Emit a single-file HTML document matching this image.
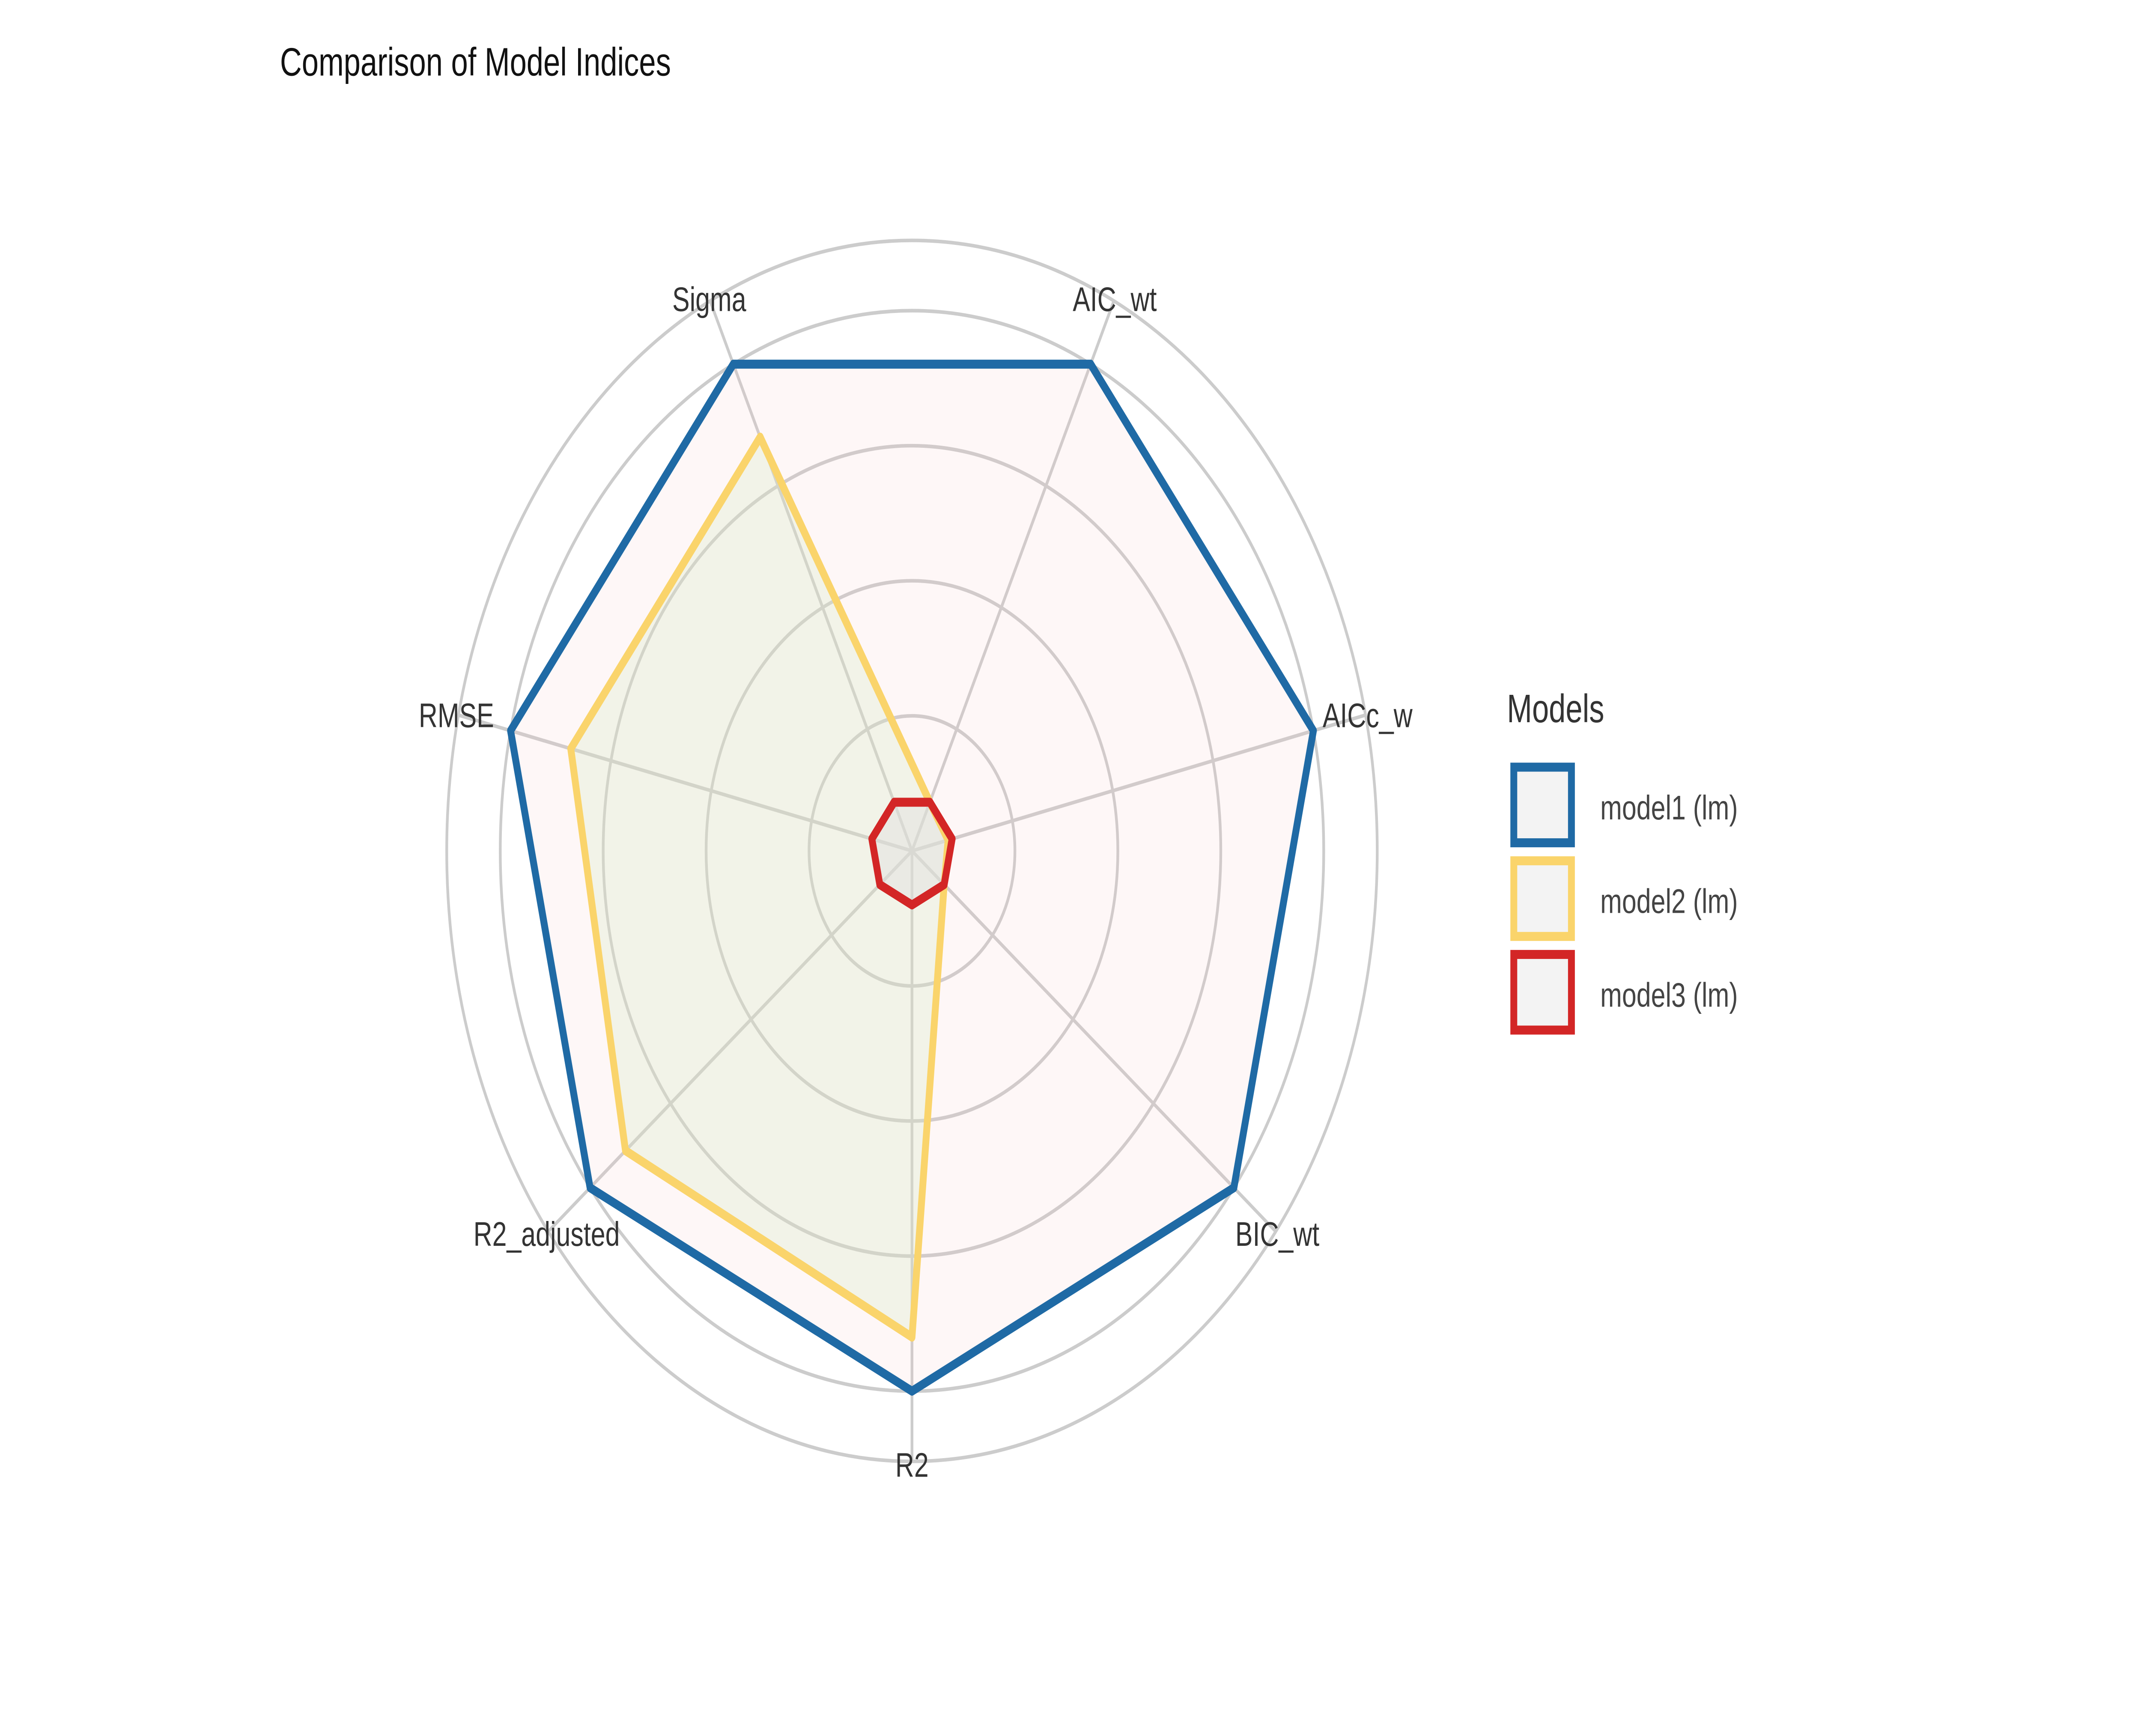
<!DOCTYPE html>
<html><head><meta charset="utf-8"><style>
html,body{margin:0;padding:0;background:#fff;width:100%;height:100%;overflow:hidden;}
svg{display:block;position:absolute;left:0;top:0;width:100vw;height:100vh;}
text{font-family:"Liberation Sans","DejaVu Sans",sans-serif;}
</style></head><body>
<svg id="chart" viewBox="0 0 1560 964" preserveAspectRatio="none" xmlns="http://www.w3.org/2000/svg">
<rect width="1560" height="964" fill="#fff"/>
<text x="204" y="42" font-size="22" fill="#111">Comparison of Model Indices</text>
<g id="grid"></g>
<g id="series"></g>
<g id="labels"></g>
<g id="legend">
<text x="1098" y="401" font-size="22" fill="#333">Models</text>
</g>
</svg>
<script>
const categories = ["R2","BIC_wt","AICc_w","AIC_wt","Sigma","RMSE","R2_adjusted"];
const model1 = [1,1,1,1,1,1,1];
const model2 = [0.9,0.1,0.09,0.1,0.85,0.85,0.89];
const model3 = [0.1,0.1,0.1,0.1,0.1,0.1,0.1];
const seriesNames = ["model1 (lm)","model2 (lm)","model3 (lm)"];
const gridLevels = [0.25,0.5,0.75,1.0];

const NS="http://www.w3.org/2000/svg";
const cx=664.5, cy=472.5, R=300, outer=1.13;
const series=[model1,model2,model3];
const colors=["#1f6aa5","#fad46b","#d32626"];
const fills=["rgba(245,200,200,0.15)","rgba(215,235,200,0.3)","rgba(225,225,225,0.45)"];
function ang(i){return (-90 + i*360/categories.length)*Math.PI/180;}
function pt(i,v){const a=ang(i);return [cx+R*v*Math.cos(a), cy-R*v*Math.sin(a)];}
function mk(tag,attrs,parent){const e=document.createElementNS(NS,tag);for(const k in attrs)e.setAttribute(k,attrs[k]);parent.appendChild(e);return e;}
const grid=document.getElementById('grid');
[...gridLevels,outer].forEach((l,j)=>{
  const c=mk('circle',{cx:cx,cy:cy,r:R*l,fill:'none',stroke:'#cccccc','stroke-width':2},grid);
  
  
});
categories.forEach((c,i)=>{
  const p=pt(i,outer);
  const l=mk('line',{x1:cx,y1:cy,x2:p[0],y2:p[1],stroke:'#cccccc','stroke-width':2},grid);
  
  
});
const sg=document.getElementById('series');
series.forEach((s,k)=>{
  const pts=s.map((v,i)=>pt(i,v).join(',')).join(' ');
  const poly=mk('polygon',{points:pts,fill:fills[k],stroke:'none'},sg);
  
  
});
series.forEach((s,k)=>{
  const pts=s.map((v,i)=>pt(i,v).join(',')).join(' ');
  const poly=mk('polygon',{points:pts,fill:'none',stroke:colors[k],'stroke-width':5,'stroke-linejoin':'round'},sg);
  
  
});
const lg=document.getElementById('labels');
categories.forEach((c,i)=>{
  const a=ang(i);
  const rr=R*1.135;
  const x=cx+rr*Math.cos(a), y=cy-rr*Math.sin(a)+7;
  const t=mk('text',{x:x,y:y,'font-size':19,fill:'#333','text-anchor':'middle'},lg);
  t.textContent=c;
  
  
});
const leg=document.getElementById('legend');
seriesNames.forEach((n,k)=>{
  const y=426+k*52;
  const r=mk('rect',{x:1103,y:y,width:42,height:42,fill:'#f3f3f3',stroke:colors[k],'stroke-width':5},leg);
  
  
  const t=mk('text',{x:1166,y:y+29,'font-size':19,fill:'#444'},leg);
  t.textContent=n;
  
  
});
</script>
</body></html>
